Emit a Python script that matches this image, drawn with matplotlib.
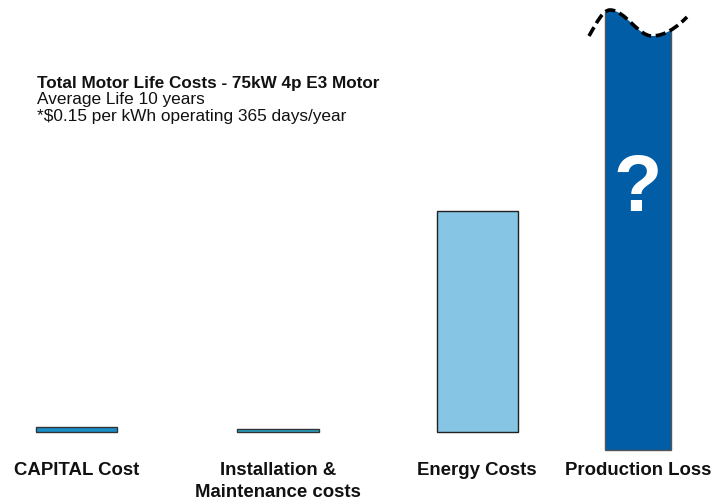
import matplotlib
matplotlib.use("Agg")
import matplotlib.pyplot as plt
from matplotlib.path import Path
from matplotlib.patches import PathPatch

# ---- data ----
categories = ["CAPITAL Cost", "Installation &\nMaintenance costs", "Energy Costs", "Production Loss"]
values = [5, 3, 221, 0]          # bar heights (relative units); production loss is unknown
unknown_label = "?"
title = "Total Motor Life Costs - 75kW 4p E3 Motor"
subtitle_lines = ["Average Life 10 years", "*$0.15 per kWh operating 365 days/year"]

# ---- layout / style ----
W, H = 727, 501
base = 432  # baseline pixel row
centers = [76.5, 278, 477, 638]
widths = [81, 82, 81, 66]
colors = ["#1a8fca", "#25a5c8", "#86c6e4", "#005da6"]
edges = ["#333333", "#333333", "#222222", "#555555"]
FONT = "Liberation Sans"

fig = plt.figure(figsize=(W / 100, H / 100), dpi=100)
ax = fig.add_axes([0, 0, 1, 1])
ax.set_xlim(0, W)
ax.set_ylim(base - H, base)
ax.axis("off")

def py(p):
    """pixel row -> data value"""
    return base - p

for i in range(3):
    ax.bar(centers[i], values[i], width=widths[i], bottom=0, color=colors[i],
           edgecolor=edges[i], linewidth=1.0)

# Production loss: unknown, tall bar with a wavy "broken" top
verts_curve = [(589, 36), (597, 22), (603, 10), (610, 10),
               (625, 10), (638, 36), (652, 36),
               (665, 36), (677, 27), (687, 17)]
codes_curve = [Path.MOVETO] + [Path.CURVE4] * 9
curve = Path([(x, py(y)) for x, y in verts_curve], codes_curve)

clip_verts = [(x, py(y)) for x, y in verts_curve] + [(700, py(600)), (570, py(600)), (589, py(36))]
clip_codes = codes_curve + [Path.LINETO, Path.LINETO, Path.CLOSEPOLY]
clip_patch = PathPatch(Path(clip_verts, clip_codes), transform=ax.transData,
                       facecolor="none", edgecolor="none")
ax.add_patch(clip_patch)

bar4 = ax.bar(centers[3], py(5) - py(450), width=widths[3], bottom=py(450),
              color=colors[3], edgecolor=edges[3], linewidth=1.0)
for r in bar4:
    r.set_clip_path(clip_patch)

ax.add_patch(PathPatch(curve, facecolor="none", edgecolor="black", linewidth=2.6,
                       linestyle=(0, (2.8, 1.3)), capstyle="butt"))

ax.text(centers[3], py(211), unknown_label, ha="center", va="baseline",
        fontsize=57, fontweight="bold", color="white", family=FONT)

# title block
ax.text(37, py(88), title, ha="left", va="baseline", fontsize=12.3,
        fontweight="bold", family=FONT, color="#111111")
ax.text(37, py(104), subtitle_lines[0], ha="left", va="baseline", fontsize=12.4,
        family=FONT, color="#111111")
ax.text(37, py(121), subtitle_lines[1], ha="left", va="baseline", fontsize=12.4,
        family=FONT, color="#111111")

# category labels
for c, lab in zip(centers, categories):
    for k, line in enumerate(lab.split("\n")):
        ax.text(c, py(475 + 22 * k), line, ha="center", va="baseline", fontsize=13.4,
                fontweight="bold", family=FONT, color="#111111")

fig.savefig("out.png", dpi=100)
